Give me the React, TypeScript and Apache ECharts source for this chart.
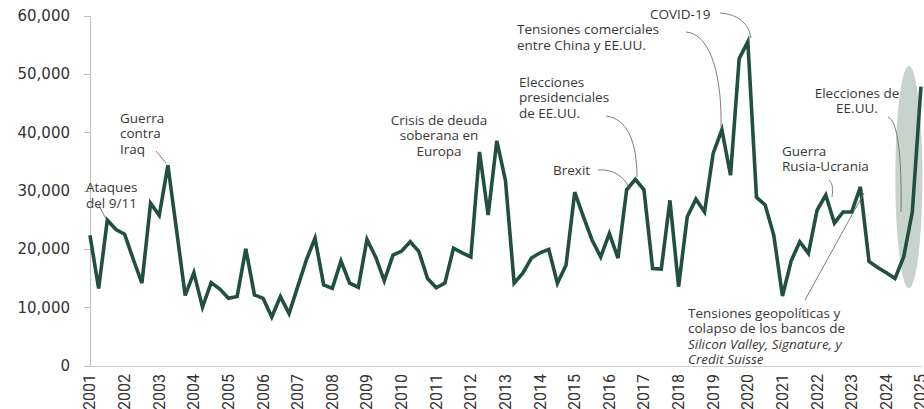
import React, { useEffect, useRef } from "react";
import * as echarts from "echarts";

const years = [
  "2001", "2002", "2003", "2004", "2005", "2006", "2007", "2008", "2009", "2010",
  "2011", "2012", "2013", "2014", "2015", "2016", "2017", "2018", "2019", "2020",
  "2021", "2022", "2023", "2024", "2025",
];

// Quarterly values, 2001 Q1 .. 2025 Q1
const values = [
  22400, 13300, 25000, 23400,
  22600, 18300, 14200, 27900,
  25800, 34400, 23300, 12100,
  16000, 10100, 14300, 13200,
  11600, 11900, 20100, 12200,
  11600, 8400, 11900, 9000,
  13600, 18200, 21900, 13900,
  13300, 18000, 14200, 13500,
  21700, 18700, 14600, 19000,
  19700, 21300, 19600, 15000,
  13400, 14200, 20200, 19400,
  18700, 36700, 25900, 38600,
  31800, 14200, 15900, 18500,
  19400, 20000, 14200, 17300,
  29800, 25600, 21600, 18700,
  22700, 18500, 30200, 32000,
  30200, 16700, 16600, 28400,
  13600, 25600, 28600, 26400,
  36500, 40500, 32700, 52700,
  55600, 28900, 27600, 22400,
  12000, 18000, 21300, 19300,
  26700, 29300, 24500, 26400,
  26400, 30700, 17900, 16900,
  16000, 15000, 18700, 26400,
  47900,
];

const yTicks = [0, 10000, 20000, 30000, 40000, 50000, 60000];

const FONT = '"Open Sans", "Noto Sans", sans-serif';
const TXT = "#383838";
const LEAD = "#6e6e6e";
const FS = 13.5;
const LH = 15.5;

function txt(x: number, y: number, text: string, align: string, extra: any = {}) {
  return {
    type: "text",
    z: 20,
    x,
    y,
    style: {
      text,
      fill: TXT,
      fontSize: FS,
      fontFamily: FONT,
      textAlign: align,
      textVerticalAlign: "top",
      lineHeight: LH,
      ...extra,
    },
  };
}

function curve(x1: number, y1: number, cx1: number, cy1: number, cx2: number, cy2: number, x2: number, y2: number) {
  return {
    type: "bezierCurve",
    z: 20,
    shape: { x1, y1, cpx1: cx1, cpy1: cy1, cpx2: cx2, cpy2: cy2, x2, y2 },
    style: { stroke: LEAD, lineWidth: 0.9, fill: null },
  };
}

function seg(x1: number, y1: number, x2: number, y2: number) {
  return {
    type: "line",
    z: 20,
    shape: { x1, y1, x2, y2 },
    style: { stroke: LEAD, lineWidth: 0.9 },
  };
}

export default function App() {
  const ref = useRef<HTMLDivElement>(null);

  useEffect(() => {
    if (!ref.current) return;
    const chart = echarts.init(ref.current, null, { renderer: "svg" });
    const option: any = {
      animation: false,
      backgroundColor: "#ffffff",
      grid: {
        left: 86,
        right: 2,
        top: 16,
        bottom: 43,
        containLabel: false,
        outerBoundsMode: "none",
      },
      xAxis: {
        type: "value",
        min: -0.46,
        max: 96.12,
        axisLine: { show: true, lineStyle: { color: "#cfcfcf", width: 1 } },
        axisTick: { show: false },
        splitLine: { show: false },
        axisLabel: {
          customValues: years.map((_, k) => k * 4),
          formatter: (v: number) => years[Math.round(v / 4)] ?? "",
          rotate: 90,
          margin: 8,
          fontSize: 16,
          fontFamily: '"Liberation Sans Narrow", Roboto, sans-serif',
          color: "#333333",
        },
      },
      yAxis: {
        type: "value",
        min: 0,
        max: 60000,
        interval: 10000,
        axisLine: { show: true, lineStyle: { color: "#bdbdbd", width: 1 } },
        axisTick: { show: true, length: 6, lineStyle: { color: "#bdbdbd" } },
        splitLine: { show: false },
        axisLabel: {
          margin: 16,
          fontSize: 15,
          fontFamily: '"DejaVu Sans", sans-serif',
          color: "#333333",
          customValues: yTicks,
          formatter: (v: number) => v.toLocaleString("en-US"),
        },
      },
      series: [
        {
          type: "line",
          data: values.map((v, i) => [i, v]),
          showSymbol: false,
          symbol: "none",
          z: 5,
          lineStyle: { color: "#22503f", width: 3.6, join: "miter" },
        },
      ],
    };
    chart.setOption(option);

    const c = chart.convertToPixel({ seriesIndex: 0 }, [94.6, 32400]) as number[];

    chart.setOption({
      graphic: [
        {
          type: "ellipse",
          z: 0,
          silent: true,
          shape: { cx: c[0], cy: c[1], rx: 13.5, ry: 111 },
          style: { fill: "#c9d3cd" },
        },
        txt(86, 179.5, "Ataques\ndel 9/11", "left"),
        seg(98, 204, 105.5, 218),
        txt(120, 110, "Guerra\ncontra\nIraq", "left"),
        seg(156, 151, 166, 163),
        txt(439, 112, "Crisis de deuda\nsoberana en\nEuropa", "center"),
        txt(553, 161.75, "Brexit", "left"),
        curve(598, 170, 612, 169, 624, 175, 630, 190),
        txt(519, 74.2, "Elecciones\npresidenciales\nde EE.UU.", "left"),
        curve(606, 116, 626, 118, 637, 140, 637, 177),
        txt(517, 21.7, "Tensiones comerciales\nentre China y EE.UU.", "left"),
        curve(686, 32, 712, 34, 722, 80, 721, 127),
        txt(650, 6.25, "COVID-19", "left"),
        curve(720, 13, 738, 14, 749, 24, 751, 38),
        txt(782, 143.2, "Guerra\nRusia-Ucrania", "left"),
        curve(829, 180, 833, 184, 833, 190, 832, 197),
        txt(857, 85, "Elecciones de\nEE.UU.", "center"),
        curve(888, 117, 898, 120, 902, 160, 901, 212),
        txt(688, 305, "Tensiones geopolíticas y\ncolapso de los bancos de", "left"),
        txt(688, 336, "Silicon Valley, Signature, y\nCredit Suisse", "left", {
          fontStyle: "italic",
        }),
        seg(805, 300, 864, 193),
      ],
    });

    return () => {
      chart.dispose();
    };
  }, []);

  return (
    <div
      ref={ref}
      style={{ position: "fixed", left: 0, top: 0, width: 924, height: 409 }}
    />
  );
}
